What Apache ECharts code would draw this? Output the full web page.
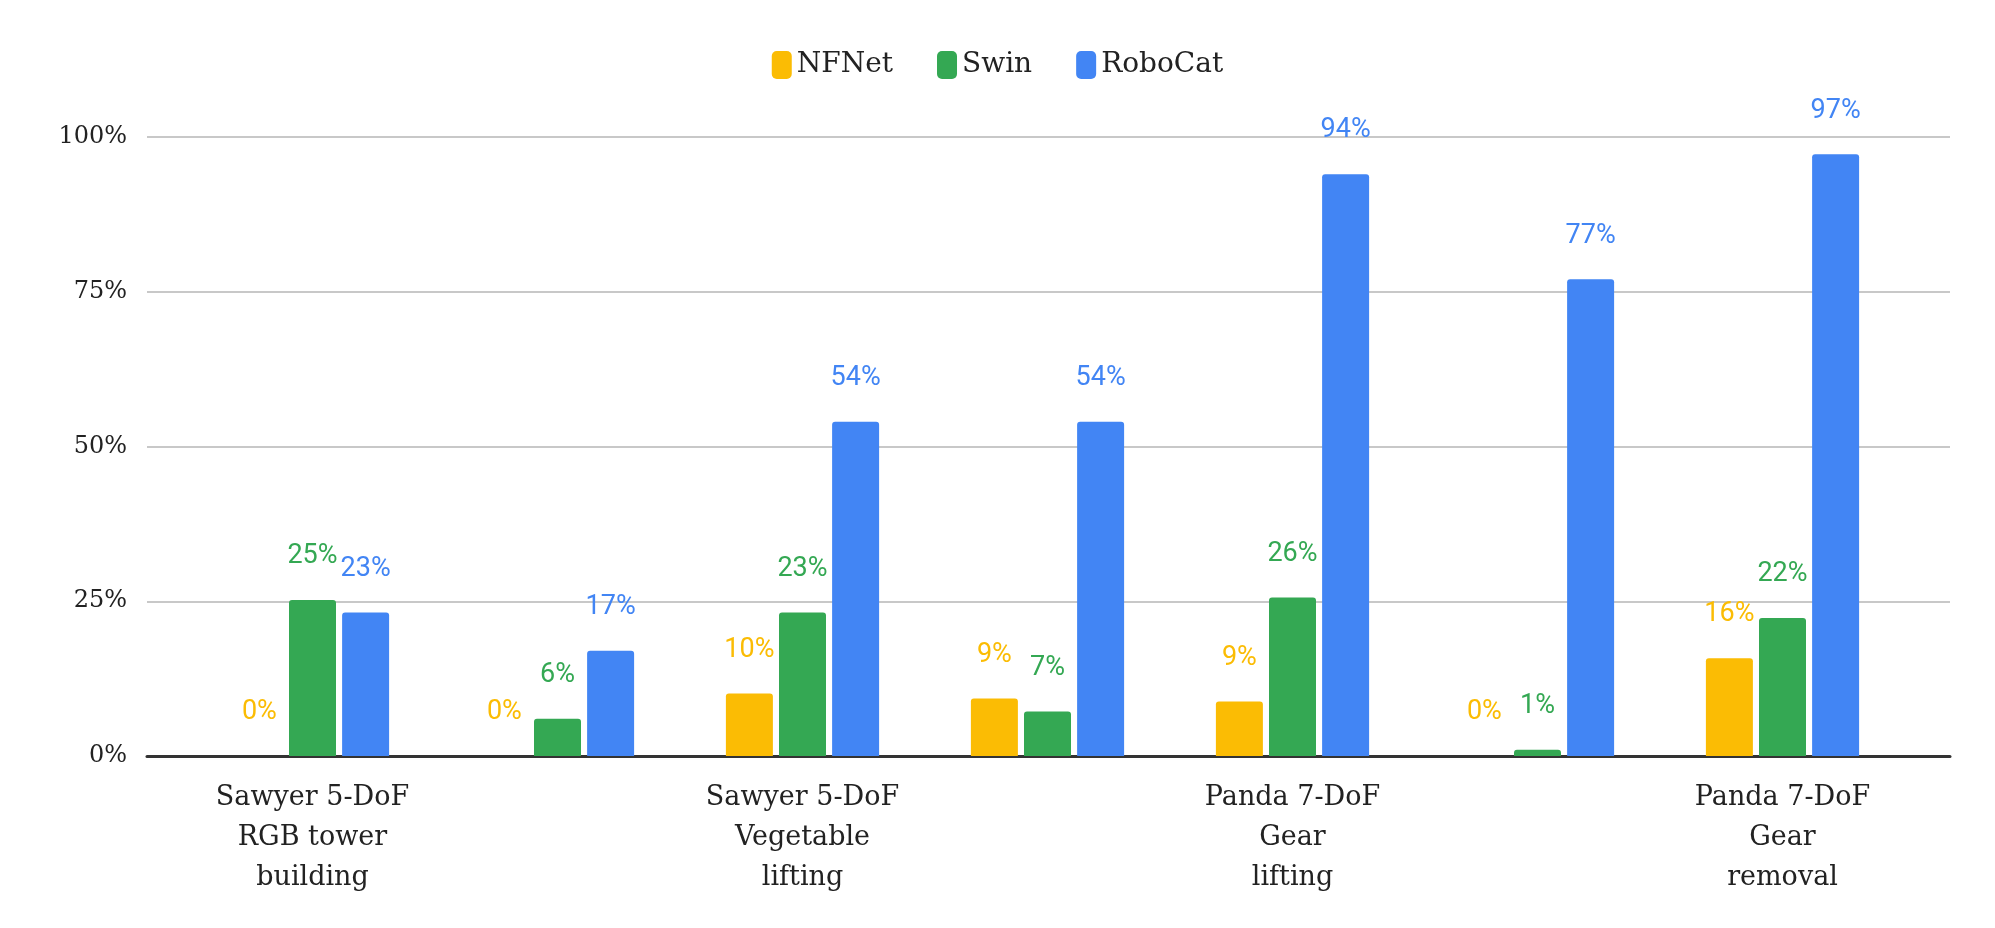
<!DOCTYPE html>
<html><head><meta charset="utf-8">
<script src="https://cdn.jsdelivr.net/npm/echarts@6/dist/echarts.min.js"></script>
<style>html,body{margin:0;padding:0;background:#fff}#c{width:1995px;height:928px}</style>
</head><body><div id="c"></div>
<script>
const categories = ["Sawyer 5-DoF\nRGB tower\nbuilding","Sawyer 5-DoF\nRGB inverted\npyramid","Sawyer 5-DoF\nVegetable\nlifting","Panda 7-DoF\nFruit\nlifting","Panda 7-DoF\nGear\nlifting","Panda 7-DoF\nGear\ninsertion","Panda 7-DoF\nGear\nremoval"];
const nfnet = [0,0,10.1,9.3,8.8,0,15.8];
const swin = [25.2,6,23.2,7.2,25.6,1,22.3];
const robocat = [23.2,17,54,54,94,77,97.2];
const colors = ["#FBBC04","#34A853","#4285F4"];
const serif = "'DejaVu Serif'";
function s(name,data,color){
  return {name,type:'bar',data,xAxisIndex:0,yAxisIndex:0,barWidth:47,barGap:'13%',
    itemStyle:{color,borderRadius:[3,3,0,0]},
    label:{show:true,position:'top',distance:30,color,fontFamily:'Roboto',fontSize:27,
      formatter:p=>Math.round(p.value)+'%'}};
}
const chart = echarts.init(document.getElementById('c'));
chart.setOption({
  animation:false,
  legend:{top:46,left:'center',itemWidth:20,itemHeight:28,itemGap:44,
    textStyle:{fontFamily:serif,fontSize:28,color:'#222'},icon:'roundRect',
    data:['NFNet','Swin','RoboCat']},
  grid:[{left:190,right:90,top:137,bottom:172},{left:147,right:45,top:137,bottom:172}],
  xAxis:[{type:'category',data:categories,gridIndex:0,axisLine:{show:false},axisTick:{show:false},
    axisLabel:{fontFamily:serif,fontSize:27,color:'#222',lineHeight:40,margin:22}},
    {type:'category',gridIndex:1,data:[''],axisLine:{lineStyle:{color:'#333',width:3}},axisTick:{show:false},axisLabel:{show:false}}],
  yAxis:[{type:'value',gridIndex:0,min:0,max:100,interval:25,show:false,splitLine:{show:false}},
    {type:'value',gridIndex:1,min:0,max:100,interval:25,axisLine:{show:false},axisTick:{show:false},
     axisLabel:{formatter:'{value}%',fontFamily:serif,fontSize:24,color:'#222',margin:20},
     splitLine:{lineStyle:{color:'#c8c8c8',width:2}}}],
  series:[s('NFNet',nfnet,colors[0]),s('Swin',swin,colors[1]),s('RoboCat',robocat,colors[2]),
    {type:'bar',xAxisIndex:1,yAxisIndex:1,data:[],silent:true}]
});
</script></body></html>
